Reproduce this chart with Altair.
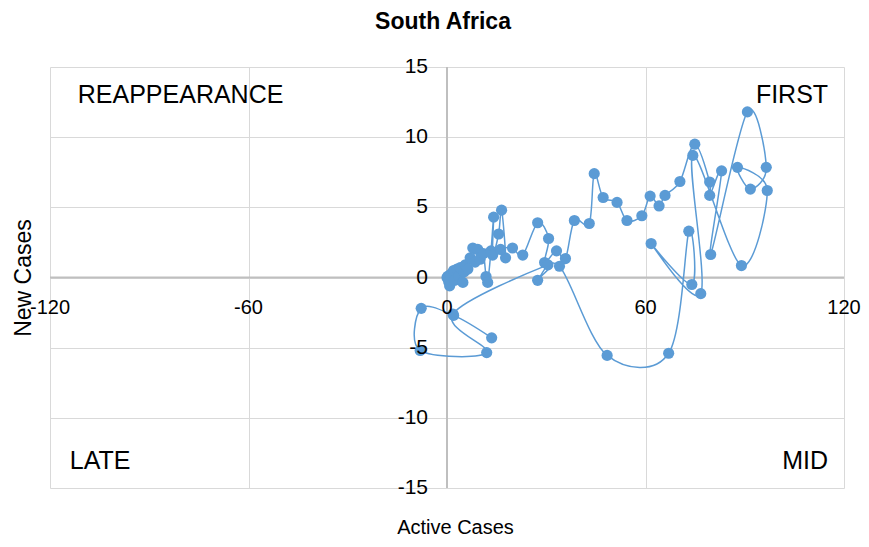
import altair as alt
import pandas as pd

# Trajectory (in time order): active cases vs new cases
active = [0.0, 0.3, 0.5, 1.0, 0.8, 1.5, 2.0, 2.3, 3.0, 3.5, 4.0, 4.8, 5.2, 5.5, 6.3,
          7.0, 7.8, 8.5, 9.3, 10.0, 11.0, 11.8, 12.3, 13.3, 14.1, 13.8, 15.6, 16.5,
          17.7, 16.2, 19.8, 22.9, 27.4, 30.7, 29.5, 33.1, 35.8, 38.5, 43.0, 44.5,
          47.2, 51.4, 54.4, 58.9, 61.4, 64.1, 65.9, 70.4, 74.9, 79.4, 79.4, 83.0,
          79.7, 90.8, 96.5, 91.7, 87.8, 96.8, 89.0, 74.3, 76.7, 61.7, 74.0, 73.1,
          67.0, 48.4, 34.0, 27.4, 30.5, 1.8, 12.0, -8.1, -7.8, 2.0, 13.5]
new = [0.0, 0.1, -0.3, 0.2, -0.6, 0.3, 0.5, -0.2, 0.6, 0.1, 0.7, -0.35, 0.4, 0.9, 0.6,
       1.4, 2.1, 1.1, 2.0, 1.3, 1.7, 0.07, -0.35, 1.9, 4.3, 1.6, 3.1, 4.8,
       1.4, 2.0, 2.1, 1.6, 3.9, 2.78, 1.07, 1.9, 1.35, 4.06, 3.85, 7.4,
       5.7, 5.35, 4.06, 4.4, 5.8, 5.1, 5.85, 6.84, 9.5, 6.8, 5.85, 7.6,
       1.64, 11.8, 7.85, 6.3, 7.85, 6.2, 0.85, 8.7, -1.15, 2.42, -0.5, 3.3,
       -5.4, -5.55, 0.8, -0.2, 0.9, -2.6, -5.35, -5.2, -2.2, -2.7, -4.3]

x_ticks = [-120, -60, 0, 60, 120]
y_ticks = [-15, -10, -5, 0, 5, 10, 15]

left_labels = ["REAPPEARANCE", "LATE"]
left_x = [-111.6, -114.0]
left_y = [13.0, -13.1]
right_labels = ["FIRST", "MID"]
right_x = [115.2, 115.2]
right_y = [13.0, -13.1]

FONT = "Liberation Sans"
BLUE = "#5B9BD5"

df = pd.DataFrame({"x": active, "y": new, "idx": list(range(len(active)))})
xs = alt.Scale(domain=[-120, 120], nice=False, zero=False)
ys = alt.Scale(domain=[-15, 15], nice=False, zero=False)

x_axis = alt.Axis(values=x_ticks, labels=False, ticks=False, domain=False,
                  grid=True, gridColor="#d9d9d9", gridWidth=1,
                  title="Active Cases", titleFont=FONT, titleFontSize=20,
                  titleFontWeight="normal", titleColor="#000000", titlePadding=29,
                  titleX=405)
y_axis = alt.Axis(values=y_ticks, labels=False, ticks=False, domain=False,
                  grid=True, gridColor="#d9d9d9", gridWidth=1,
                  title="New Cases", titleFont=FONT, titleFontSize=23,
                  titleFontWeight="normal", titleColor="#000000", titlePadding=15)


def X():
    return alt.X("x:Q", scale=xs, axis=x_axis)


def Y():
    return alt.Y("y:Q", scale=ys, axis=y_axis)


zx = alt.Chart(pd.DataFrame({"x": [0]})).mark_rule(color="#bfbfbf", strokeWidth=2).encode(x=X())
zy = alt.Chart(pd.DataFrame({"y": [0]})).mark_rule(color="#bfbfbf", strokeWidth=2).encode(y=Y())

xlab = alt.Chart(pd.DataFrame({"x": x_ticks, "y": [0] * len(x_ticks),
                               "t": [str(v) for v in x_ticks]})).mark_text(
    font=FONT, fontSize=20, color="#000000", align="center", baseline="middle", dy=30).encode(
    x=X(), y=Y(), text="t:N")

ylab = alt.Chart(pd.DataFrame({"x": [0] * len(y_ticks), "y": y_ticks,
                               "t": [str(v) for v in y_ticks]})).mark_text(
    font=FONT, fontSize=21, color="#000000", align="right", baseline="middle", dx=-19).encode(
    x=X(), y=Y(), text="t:N")

line = alt.Chart(df).mark_line(interpolate="cardinal", tension=0, color=BLUE, strokeWidth=1.5).encode(
    x=X(), y=Y(), order="idx:Q")
pts = alt.Chart(df).mark_circle(size=125, color=BLUE, opacity=1).encode(x=X(), y=Y())

ql = alt.Chart(pd.DataFrame({"x": left_x, "y": left_y, "t": left_labels})).mark_text(
    font=FONT, fontSize=25, color="#000000", align="left", baseline="middle").encode(
    x=X(), y=Y(), text="t:N")
qr = alt.Chart(pd.DataFrame({"x": right_x, "y": right_y, "t": right_labels})).mark_text(
    font=FONT, fontSize=25, color="#000000", align="right", baseline="middle").encode(
    x=X(), y=Y(), text="t:N")

chart = alt.layer(zx, zy, line, pts, xlab, ylab, ql, qr).properties(
    width=794, height=421,
    title=alt.TitleParams("South Africa", font=FONT, fontSize=23, fontWeight="bold",
                          color="#000000", offset=22, dx=-4),
    autosize=alt.AutoSizeParams(type="none"),
    padding={"left": 42, "top": 59, "right": 17, "bottom": 50},
).configure_view(stroke=None)

chart.save("out.html", embed_options={"renderer": "svg", "actions": False})
